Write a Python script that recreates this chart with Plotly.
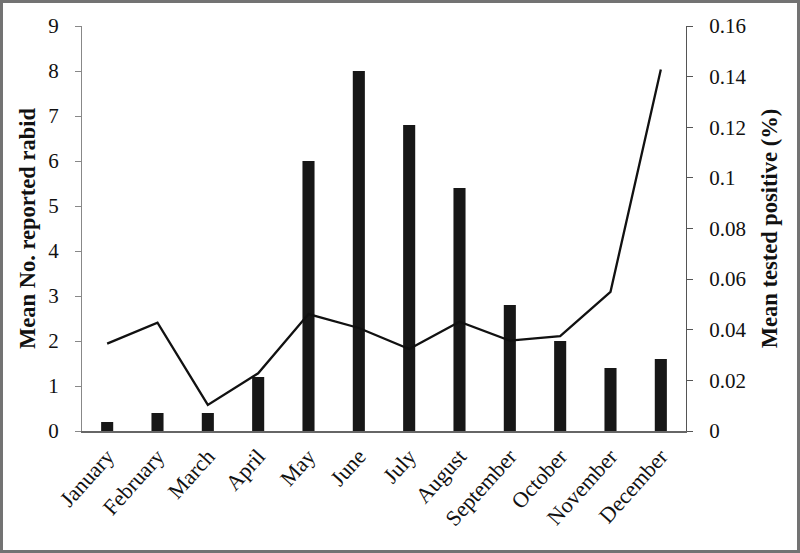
import plotly.graph_objects as go

months = ["January", "February", "March", "April", "May", "June", "July",
          "August", "September", "October", "November", "December"]
reported_rabid = [0.2, 0.4, 0.4, 1.2, 6.0, 8.0, 6.8, 5.4, 2.8, 2.0, 1.4, 1.6]
tested_positive = [0.0345, 0.0428, 0.0103, 0.0228, 0.0462, 0.0407, 0.0324,
                   0.0432, 0.0357, 0.0375, 0.0550, 0.1428]

FONT = "Liberation Serif"

fig = go.Figure()
fig.add_trace(go.Bar(x=months, y=reported_rabid, marker=dict(color="#171717", line=dict(width=0)),
                     width=0.24, yaxis="y", showlegend=False))
fig.add_trace(go.Scatter(x=months, y=tested_positive, mode="lines",
                         line=dict(color="#111111", width=2.3), yaxis="y2", showlegend=False))

L, R, T, B = 82, 800 - 686, 26, 553 - 431
fig.update_layout(
    width=800, height=553,
    margin=dict(l=L, r=R, t=T, b=B, pad=0, autoexpand=False),
    paper_bgcolor="white", plot_bgcolor="white",
    font=dict(family=FONT, color="#111111", size=20),
    xaxis=dict(type="category", tickangle=-48, showgrid=False, ticks="",
               showline=True, linecolor="#666666", linewidth=1.5, automargin=False,
               tickfont=dict(size=22, family=FONT), ticklabelstandoff=2),
    yaxis=dict(range=[0, 9], dtick=1, showgrid=False, zeroline=False, automargin=False,
               showline=True, linecolor="#888888", linewidth=1.2,
               ticks="outside", ticklen=6, tickcolor="#888888",
               tickfont=dict(size=21, family=FONT), ticklabelstandoff=12,
               title=dict(text="<b>Mean No. reported rabid</b>",
                          font=dict(size=22.5, family=FONT), standoff=6)),
    yaxis2=dict(range=[0, 0.16], dtick=0.02, overlaying="y", side="right", automargin=False,
                showgrid=False, zeroline=False,
                showline=True, linecolor="#555555", linewidth=1.2,
                ticks="outside", ticklen=6, tickcolor="#555555",
                tickfont=dict(size=21, family=FONT), ticklabelstandoff=12,
                title=dict(text="<b>Mean tested positive (%)</b>",
                           font=dict(size=22.5, family=FONT), standoff=15)),
    bargap=0.76,
)

pw, ph = 800 - L - R, 553 - T - B
fig.add_shape(type="rect", xref="paper", yref="paper",
              x0=(1.5 - L) / pw, x1=(798.5 - L) / pw,
              y0=-(B - 1.5) / ph, y1=1 + (T - 1.5) / ph,
              line=dict(color="#737373", width=3), fillcolor="rgba(0,0,0,0)", layer="above")

fig.write_html("out.html", config={"displayModeBar": False},
               post_script="document.body.style.margin='0';document.body.style.overflow='hidden';")
